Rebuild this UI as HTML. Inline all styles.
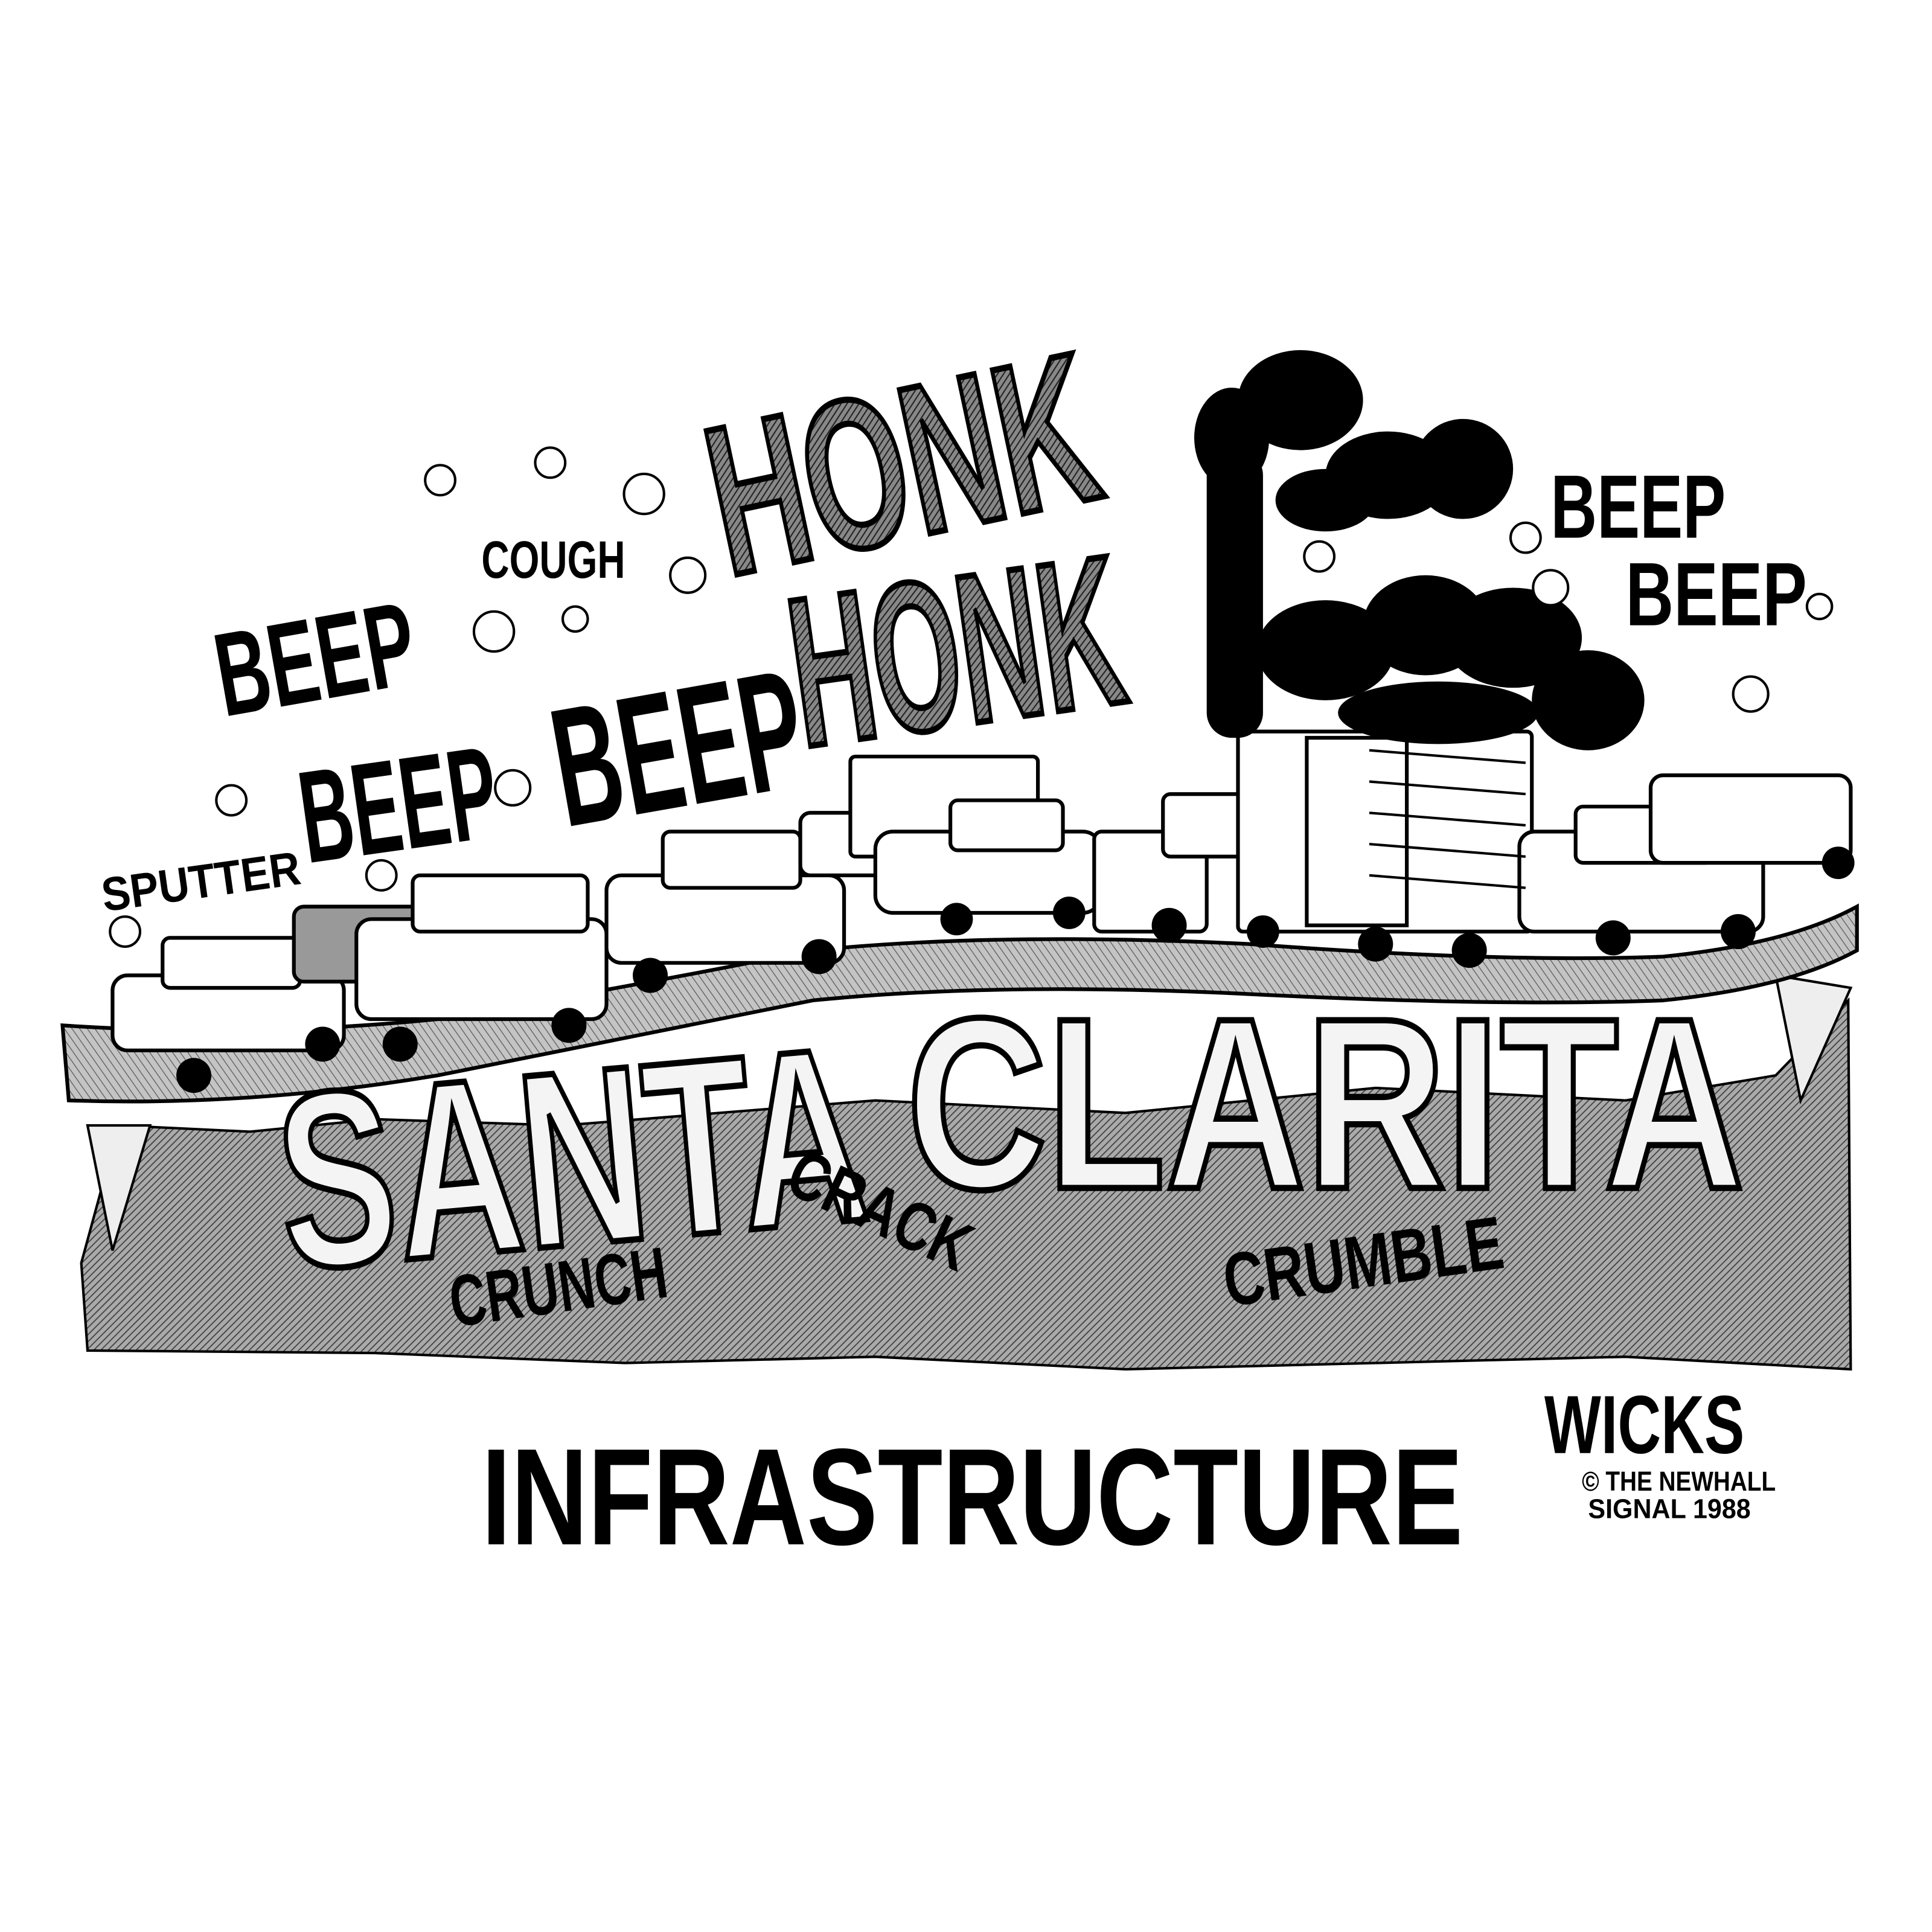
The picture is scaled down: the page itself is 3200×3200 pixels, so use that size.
<!DOCTYPE html>
<html><head><meta charset="utf-8"><style>
html,body{margin:0;padding:0;background:#fff}
svg{display:block}
text{font-family:"Liberation Sans",sans-serif;font-weight:bold}
</style></head><body>
<svg width="3200" height="3200" viewBox="0 0 1545 1545" xmlns="http://www.w3.org/2000/svg">
<defs>
<pattern id="h" width="4" height="4" patternUnits="userSpaceOnUse" patternTransform="rotate(45)">
<rect width="4" height="4" fill="#aaa"/><line x1="0" y1="0" x2="0" y2="4" stroke="#444" stroke-width="1.8"/>
</pattern>
<pattern id="hk" width="4" height="4" patternUnits="userSpaceOnUse" patternTransform="rotate(45)">
<rect width="4" height="4" fill="#888"/><line x1="0" y1="0" x2="0" y2="4" stroke="#222" stroke-width="2"/>
</pattern>
<pattern id="h2" width="5" height="5" patternUnits="userSpaceOnUse" patternTransform="rotate(-35)">
<rect width="5" height="5" fill="#c4c4c4"/><line x1="0" y1="0" x2="0" y2="5" stroke="#666" stroke-width="1.4"/>
</pattern>
</defs>
<rect width="1545" height="1545" fill="#fff"/>

<path d="M65 1010 L95 900 L200 905 L300 895 L450 900 L700 880 L900 890 L1100 870 L1300 880 L1420 860 L1478 800 L1480 1095 L1300 1085 L1100 1090 L900 1095 L700 1085 L500 1090 L300 1082 L70 1080 Z" fill="url(#h)" stroke="#000" stroke-width="2"/>
<path d="M70 900 L90 1000 L120 900 Z" fill="#eee" stroke="#000" stroke-width="2"/>
<path d="M1420 780 L1440 880 L1480 790 Z" fill="#eee" stroke="#000" stroke-width="2"/>
<path d="M50 820 Q200 830 350 815 Q500 790 650 760 Q800 745 1000 755 Q1200 770 1330 765 Q1430 755 1485 725 L1485 760 Q1430 790 1330 800 Q1200 805 1000 795 Q800 785 650 800 Q500 830 350 860 Q200 885 55 880 Z" fill="url(#h2)" stroke="#000" stroke-width="3"/>

<g fill="#fff" stroke="#000" stroke-width="3">
<rect x="90" y="780" width="185" height="60" rx="12"/><rect x="130" y="750" width="110" height="40" rx="6"/>
<rect x="235" y="725" width="110" height="60" rx="8" fill="#999"/>
<rect x="285" y="735" width="200" height="80" rx="12"/><rect x="330" y="700" width="140" height="45" rx="6"/>
<rect x="485" y="700" width="190" height="70" rx="12"/><rect x="530" y="665" width="110" height="45" rx="6"/>
<rect x="640" y="650" width="90" height="50" rx="8"/>
<rect x="680" y="605" width="150" height="80" rx="4"/>
<rect x="700" y="665" width="180" height="65" rx="14"/><rect x="760" y="640" width="90" height="40" rx="6"/>
<rect x="875" y="665" width="90" height="80" rx="6"/><rect x="930" y="635" width="70" height="50" rx="6"/>
<rect x="990" y="585" width="235" height="160" rx="4"/>
<rect x="1215" y="665" width="195" height="80" rx="12"/><rect x="1260" y="645" width="110" height="45" rx="6"/>
<rect x="1320" y="620" width="160" height="70" rx="10"/>
<rect x="1045" y="590" width="80" height="150"/>
</g>
<g fill="#000">
<circle cx="155" cy="860" r="14"/><circle cx="258" cy="835" r="14"/>
<circle cx="320" cy="835" r="14"/><circle cx="455" cy="820" r="14"/>
<circle cx="520" cy="780" r="14"/><circle cx="655" cy="765" r="14"/>
<circle cx="765" cy="735" r="13"/><circle cx="855" cy="730" r="13"/>
<circle cx="935" cy="740" r="14"/><circle cx="1010" cy="745" r="13"/>
<circle cx="1100" cy="755" r="14"/><circle cx="1175" cy="760" r="14"/>
<circle cx="1290" cy="750" r="14"/><circle cx="1390" cy="745" r="14"/><circle cx="1470" cy="690" r="13"/>
</g>
<g stroke="#000" stroke-width="2" fill="none">
<line x1="1095" y1="600" x2="1220" y2="610"/><line x1="1095" y1="625" x2="1220" y2="635"/>
<line x1="1095" y1="650" x2="1220" y2="660"/><line x1="1095" y1="675" x2="1220" y2="685"/>
<line x1="1095" y1="700" x2="1220" y2="710"/>
</g>

<g fill="#000">
<rect x="965" y="360" width="45" height="230" rx="20"/>
<ellipse cx="985" cy="350" rx="30" ry="40"/>
<ellipse cx="1040" cy="320" rx="50" ry="40"/>
<ellipse cx="1110" cy="380" rx="50" ry="35"/>
<ellipse cx="1170" cy="375" rx="40" ry="40"/>
<ellipse cx="1060" cy="400" rx="40" ry="25"/>
<ellipse cx="1060" cy="520" rx="55" ry="40"/>
<ellipse cx="1140" cy="500" rx="50" ry="40"/>
<ellipse cx="1210" cy="510" rx="55" ry="40"/>
<ellipse cx="1270" cy="560" rx="45" ry="40"/>
<ellipse cx="1150" cy="570" rx="80" ry="25"/>
</g>

<g fill="#fff" stroke="#000" stroke-width="2">
<circle cx="352" cy="384" r="12"/><circle cx="440" cy="370" r="12"/><circle cx="515" cy="395" r="16"/>
<circle cx="395" cy="505" r="16"/><circle cx="460" cy="495" r="10"/><circle cx="185" cy="640" r="12"/>
<circle cx="410" cy="630" r="14"/><circle cx="305" cy="700" r="12"/><circle cx="550" cy="460" r="14"/>
<circle cx="1055" cy="445" r="12"/><circle cx="1220" cy="430" r="12"/><circle cx="1240" cy="470" r="14"/>
<circle cx="1400" cy="555" r="14"/><circle cx="1455" cy="485" r="10"/><circle cx="100" cy="745" r="12"/>
</g>

<g fill="#000">
<text x="170" y="560" font-size="95" transform="rotate(-10 250 515)" textLength="160" lengthAdjust="spacingAndGlyphs">BEEP</text>
<text x="237" y="680" font-size="105" transform="rotate(-8 315 625)" textLength="158" lengthAdjust="spacingAndGlyphs">BEEP</text>
<text x="440" y="645" font-size="135" transform="rotate(-10 540 585)" textLength="200" lengthAdjust="spacingAndGlyphs">BEEP</text>
<text x="385" y="462" font-size="42" textLength="115" lengthAdjust="spacingAndGlyphs">COUGH</text>
<text x="80" y="718" font-size="38" transform="rotate(-8 160 700)" textLength="160" lengthAdjust="spacingAndGlyphs">SPUTTER</text>
<text x="1240" y="430" font-size="72" textLength="140" lengthAdjust="spacingAndGlyphs">BEEP</text>
<text x="1300" y="500" font-size="72" textLength="145" lengthAdjust="spacingAndGlyphs">BEEP</text>
</g>
<g fill="url(#hk)" stroke="#000" stroke-width="5">
<text x="565" y="430" font-size="170" transform="rotate(-12 720 365)" textLength="310" lengthAdjust="spacingAndGlyphs">HONK</text>
<text x="630" y="580" font-size="170" transform="rotate(-8 760 505)" textLength="265" lengthAdjust="spacingAndGlyphs">HONK</text>
</g>

<g fill="#f4f4f4" stroke="#000" stroke-width="5">
<text x="220" y="995" font-size="200" transform="rotate(-5 460 900)" textLength="470" lengthAdjust="spacingAndGlyphs">SANTA</text>
<text x="725" y="950" font-size="195" textLength="670" lengthAdjust="spacingAndGlyphs">CLARITA</text>
</g>

<g fill="#000">
<text x="357" y="1050" font-size="58" transform="rotate(-8 440 1015)" textLength="175" lengthAdjust="spacingAndGlyphs">CRUNCH</text>
<text x="625" y="985" font-size="55" transform="rotate(25 700 970)" textLength="155" lengthAdjust="spacingAndGlyphs">CRACK</text>
<text x="975" y="1030" font-size="60" transform="rotate(-8 1085 990)" textLength="225" lengthAdjust="spacingAndGlyphs">CRUMBLE</text>
</g>

<text x="385" y="1235" font-size="110" fill="#000" textLength="785" lengthAdjust="spacingAndGlyphs">INFRASTRUCTURE</text>
<text x="1235" y="1162" font-size="66" fill="#000" textLength="160" lengthAdjust="spacingAndGlyphs">WICKS</text>
<text x="1265" y="1192" font-size="22" fill="#000" textLength="155" lengthAdjust="spacingAndGlyphs">© THE NEWHALL</text>
<text x="1270" y="1214" font-size="22" fill="#000" textLength="130" lengthAdjust="spacingAndGlyphs">SIGNAL 1988</text>
</svg>
</body></html>
